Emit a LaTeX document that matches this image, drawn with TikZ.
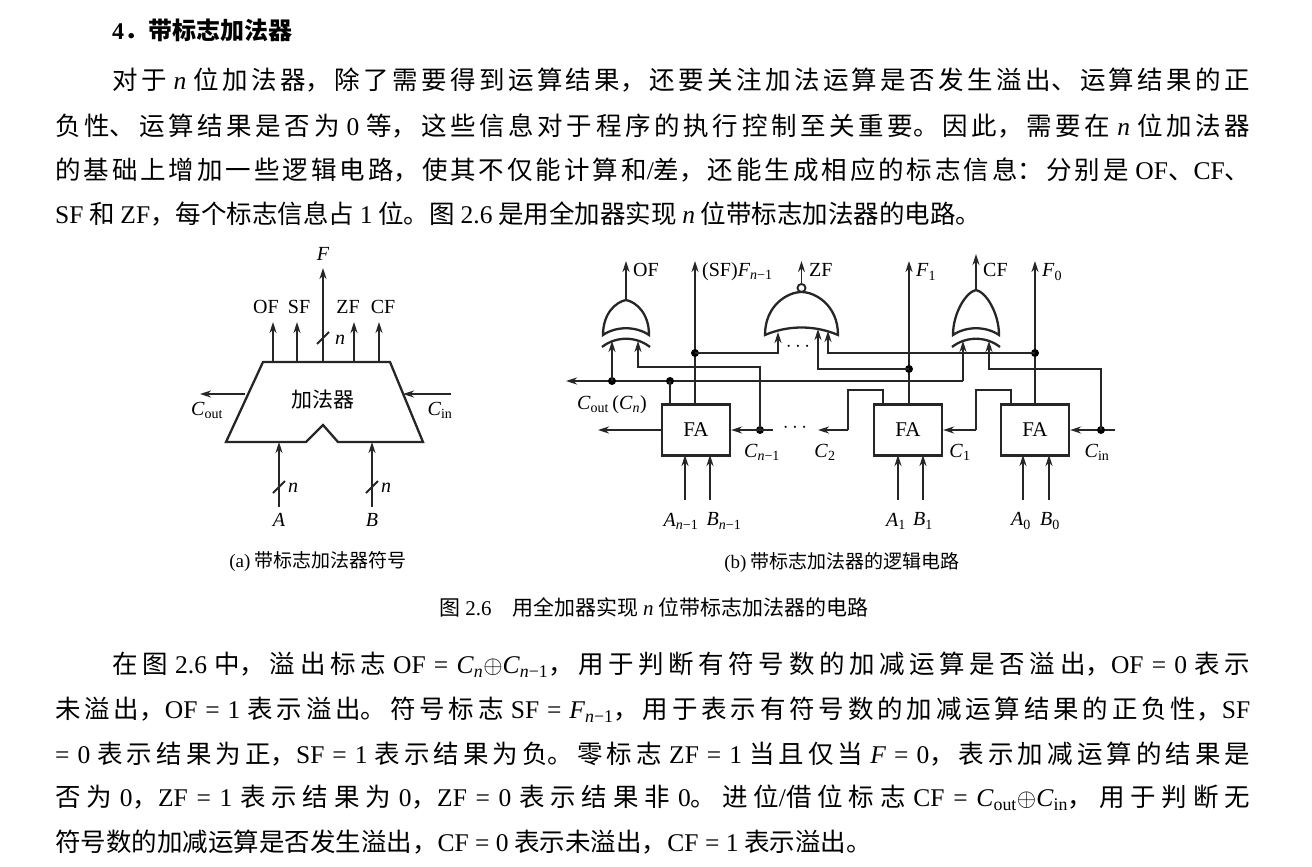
\documentclass[tikz,border=0pt]{standalone}
\usepackage{fontspec}
\setmainfont{Noto Sans CJK SC}
\newfontfamily\tm{Liberation Serif}
\usetikzlibrary{arrows.meta}
\newcommand\tx[1]{{\tm #1}}
\newcommand\mi[2]{{\tm\textit{#1}\textsubscript{#2}}}
\newcommand\opl{$\oplus$}
\begin{document}
\XeTeXlinebreaklocale "zh"
\XeTeXlinebreakskip=0pt plus 8pt
\begin{tikzpicture}[x=1pt,y=-1pt,
  every node/.style={inner sep=0pt},
  para/.style={anchor=west,text width=#1,align=justify,font=\fontsize{25.5}{25}\selectfont,
     execute at begin node={\parfillskip=0pt\parindent=0pt}},
  plain/.style={anchor=west,font=\fontsize{25.5}{25}\selectfont},
  lbl/.style={font=\tm\fontsize{20}{20}\selectfont},
  w/.style={line width=1.9pt,draw=black!85},
  ar/.style={w,-{Stealth[length=11pt,width=7pt]}},
  dot/.style={circle,fill=black,minimum size=8pt,inner sep=0pt},
  fa/.style={draw=black!85,line width=2.3pt,minimum width=68pt,minimum height=51pt,font=\tm\fontsize{21}{21}\selectfont},
  xorg/.pic={\draw[w,line width=2.3pt] (-23,0) .. controls (-23,-22) and (-10,-#1+2) .. (0,-#1) .. controls (10,-#1+2) and (23,-22) .. (23,0) .. controls (10,-9) and (-10,-9) .. cycle;
     \draw[w,line width=2.3pt] (-24,12) .. controls (-10,1) and (10,1) .. (24,12);}
  ]
\useasboundingbox (0,0) rectangle (1312,867);
% ---------- top text ----------
\node[plain,font=\fontsize{24}{24}\selectfont\bfseries] (h) at (112,30) {\tx{\textbf{4}}．带标志加法器};
\node[para=1138pt] (t1) at (112,80) {对于 \tx{\textit{n}} 位加法器，除了需要得到运算结果，还要关注加法运算是否发生溢出、运算结果的正};
\node[para=1195pt] (t2) at (55,126) {负性、运算结果是否为 \tx{0} 等，这些信息对于程序的执行控制至关重要。因此，需要在 \tx{\textit{n}} 位加法器};
\node[para=1195pt] (t3) at (55,170) {的基础上增加一些逻辑电路，使其不仅能计算和\tx{/}差，还能生成相应的标志信息：分别是 \tx{OF}、\tx{CF}、};
\node[plain] (t4) at (55,214) {\tx{SF} 和 \tx{ZF}，每个标志信息占 \tx{1} 位。图 \tx{2.6} 是用全加器实现 \tx{\textit{n}} 位带标志加法器的电路。};
% ---------- (a) ----------
\draw[w,line width=2.3pt] (263,362) -- (390,362) -- (423,442) -- (338,442) -- (323,425) -- (306,442) -- (226,442) -- cycle;
\node[font=\fontsize{21}{21}\selectfont] (add) at (323,400) {加法器};
\foreach \x/\n in {273/aOF,297/aSF,354/aZF,379/aCF}{\coordinate (\n) at (\x,322);\draw[ar] (\x,362) -- (\n);}
\node[lbl] at (266,307) {OF};\node[lbl] at (299,307) {SF};\node[lbl] at (348,307) {ZF};\node[lbl] at (383,307) {CF};
\coordinate (aF) at (323,268); \draw[ar] (323,362) -- (aF);
\node[lbl] at (323,254) {\textit{F}};
\draw[w] (317,344) -- (329,332); \node[lbl] at (340,340) {\textit{n}};
\coordinate (aco) at (200,394); \draw[ar] (245,394) -- (aco);
\node[lbl] at (207,410) {\mi{C}{out}};
\coordinate (aci) at (451,394); \draw[ar] (aci) -- (403,394);
\node[lbl] at (440,410) {\mi{C}{in}};
\foreach \x/\l in {279/A,372/B}{
  \draw[ar] (\x,507) -- (\x,442);
  \draw[w] (\x-6,493) -- (\x+6,481);
  \node[lbl] at (\x+14,488) {\textit{n}};
  \node[lbl] at (\x,520) {\textit{\l}};}
% ---------- (b) ----------
\node[fa] (fan) at (696,430) {FA};
\node[fa] (fa1) at (908,430) {FA};
\node[fa] (fa0) at (1035,430) {FA};
\pic at (626,335) {xorg=35};
\pic at (976,335) {xorg=45};
\draw[w,line width=2.3pt] (765,335) .. controls (765,305) and (788,292) .. (801.5,292) .. controls (815,292) and (838,305) .. (838,335) .. controls (815,325) and (788,325) .. cycle;
\draw[w] (801.5,288) circle (4);
% outputs
\draw[ar] (626,300) -- (626,261); \node[lbl,anchor=west] at (633,270) {OF};
\draw[ar] (801.5,284) -- (801.5,261); \node[lbl,anchor=west] at (809,270) {ZF};
\draw[ar] (976,290) -- (976,254); \node[lbl,anchor=west] at (983,270) {CF};
\draw[ar] (695,404) -- (695,261); \node[lbl,anchor=west] at (702,272) {(SF)\mi{F}{\textit{n}−1}};
\draw[ar] (909,404) -- (909,261); \node[lbl,anchor=west] at (916,272) {\mi{F}{1}};
\draw[ar] (1035,404) -- (1035,261); \node[lbl,anchor=west] at (1042,272) {\mi{F}{0}};
% Cout line
\coordinate (cout) at (566,381);
\draw[ar] (963,381) -- (cout);
\draw[ar] (963,381) -- (963,341);
\node[dot] (d1) at (612,381) {}; \node[dot] (d2) at (670,381) {};
\draw[ar] (612,381) -- (612,341);
\draw[w] (670,381) -- (670,404);
\node[lbl] at (612,405) {\mi{C}{out}\,(\mi{C}{\textit{n}})};
% OF right input
\node[dot] (d3) at (760,430) {};
\draw[ar] (760,430) -- (760,367) -- (638,367) -- (638,341);
% FA n-1 carries
\coordinate (cnout) at (598,430); \draw[ar] (fan.west) -- (cnout);
\draw[ar] (773,430) -- (fan.east);
\node[lbl] at (795,428) {$\cdots$};
\draw[ar] (848,430) -- (818,430);
\draw[w] (848,430) -- (848,390) -- (883,390) -- (883,404);
\node[lbl] at (762,452) {\mi{C}{\textit{n}−1}};
\node[lbl] at (825,452) {\mi{C}{2}};
% SF to NOR
\node[dot] (d4) at (695,353) {};
\draw[ar] (695,353) -- (778,353) -- (778,332);
\node[lbl] at (798,347) {$\cdots$};
\node[dot] (d5) at (909,369) {};
\draw[ar] (909,369) -- (818,369) -- (818,329);
\node[dot] (d6) at (1035,353) {};
\draw[ar] (1035,353) -- (828,353) -- (828,331);
% FA1 / FA0
\draw[ar] (976,430) -- (fa1.east);
\draw[w] (976,430) -- (976,390) -- (1011,390) -- (1011,404);
\node[lbl] at (960,452) {\mi{C}{1}};
\coordinate (cin) at (1115,430);
\draw[ar] (cin) -- (fa0.east);
\node[dot] (d7) at (1101,430) {};
\draw[ar] (1101,430) -- (1101,369) -- (989,369) -- (989,341);
\node[lbl] at (1097,452) {\mi{C}{in}};
% A B inputs
\foreach \x in {685,710,898,923,1023,1049}{\draw[ar] (\x,500) -- (\x,455);}
\node[lbl] at (681,521) {\mi{A}{\textit{n}−1}};\node[lbl] at (724,521) {\mi{B}{\textit{n}−1}};
\node[lbl] at (896,521) {\mi{A}{1}};\node[lbl] at (923,521) {\mi{B}{1}};
\node[lbl] at (1021,521) {\mi{A}{0}};\node[lbl] at (1050,521) {\mi{B}{0}};
% captions
\node[font=\fontsize{19}{19}\selectfont] (ca) at (318,562) {\tx{(a)} 带标志加法器符号};
\node[font=\fontsize{19}{19}\selectfont] (cb) at (842,562) {\tx{(b)} 带标志加法器的逻辑电路};
\node[font=\fontsize{21}{21}\selectfont] (cap) at (654,607) {图 \tx{2.6}\quad 用全加器实现 \tx{\textit{n}} 位带标志加法器的电路};
% ---------- bottom text ----------
\node[para=1138pt] (b1) at (112,665) {在图 \tx{2.6} 中，溢出标志 \tx{OF = \mi{C}{\textit{n}}\opl\mi{C}{\textit{n}−1}}，用于判断有符号数的加减运算是否溢出，\tx{OF = 0} 表示};
\node[para=1195pt] (b2) at (55,710) {未溢出，\tx{OF = 1} 表示溢出。符号标志 \tx{SF = \mi{F}{\textit{n}−1}}，用于表示有符号数的加减运算结果的正负性，\tx{SF}};
\node[para=1195pt] (b3) at (55,754) {\tx{= 0} 表示结果为正，\tx{SF = 1} 表示结果为负。零标志 \tx{ZF = 1} 当且仅当 \tx{\textit{F} = 0}，表示加减运算的结果是};
\node[para=1195pt] (b4) at (55,798) {否为 \tx{0}，\tx{ZF = 1} 表示结果为 \tx{0}，\tx{ZF = 0} 表示结果非 \tx{0}。进位\tx{/}借位标志 \tx{CF = \mi{C}{out}\opl\mi{C}{in}}，用于判断无};
\node[plain] (b5) at (55,842) {符号数的加减运算是否发生溢出，\tx{CF = 0} 表示未溢出，\tx{CF = 1} 表示溢出。};
\end{tikzpicture}
\end{document}
